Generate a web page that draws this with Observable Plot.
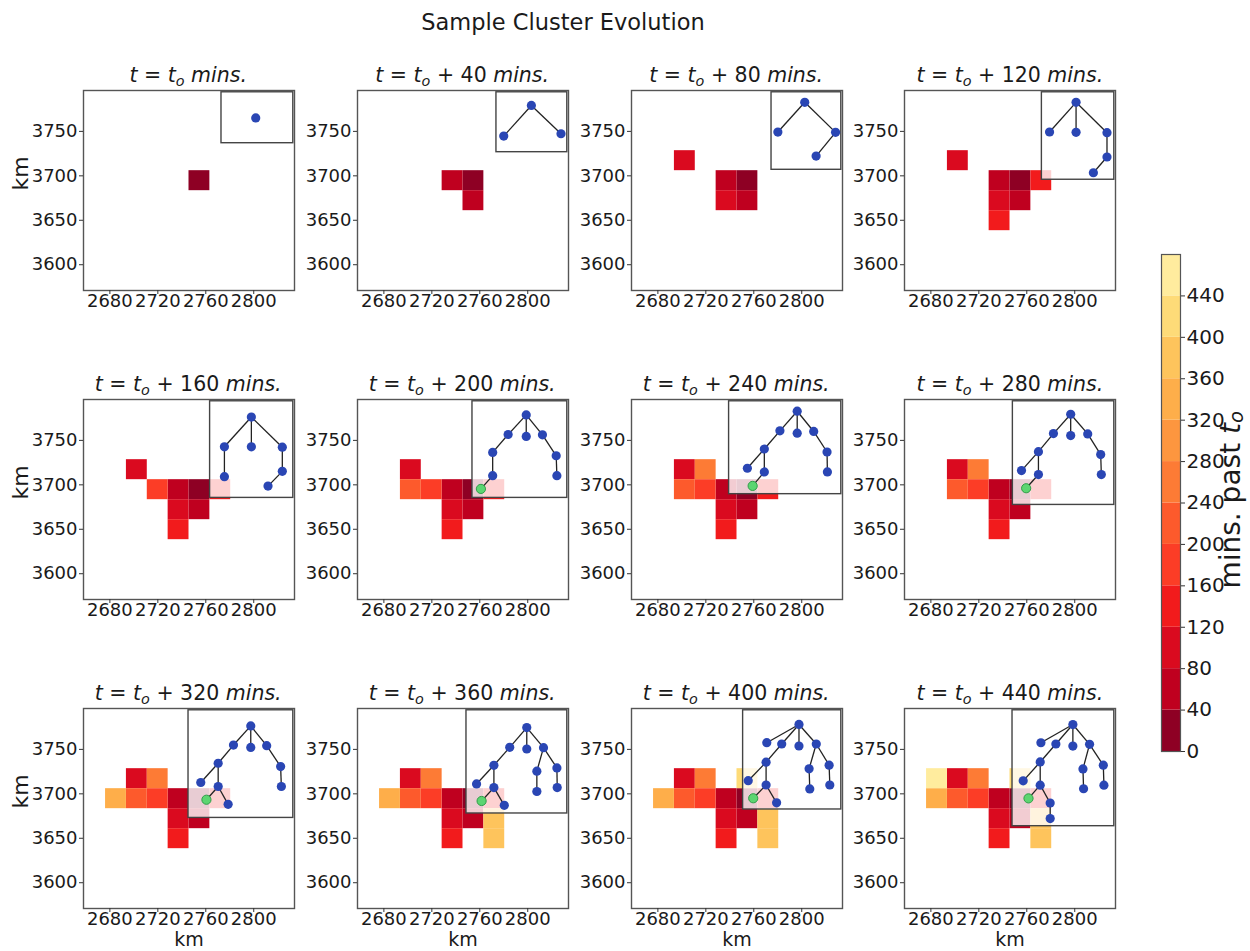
<!DOCTYPE html>
<html><head><meta charset="utf-8">
<script src="https://cdn.jsdelivr.net/npm/d3@7"></script>
<script src="https://cdn.jsdelivr.net/npm/@observablehq/plot@0.6"></script>
<style>
body{margin:0;background:#fff;font-family:"DejaVu Sans",sans-serif;color:#1a1a1a;}
#page{position:relative;width:1250px;height:951px;overflow:hidden;background:#fff;}
.abs{position:absolute;}
.ptitle{position:absolute;width:211px;text-align:center;font-size:20.5px;line-height:20px;white-space:nowrap;}
.ptitle sub{font-size:70%;vertical-align:-0.3em;line-height:0;}
#main{position:absolute;left:0;width:1126px;top:10px;text-align:center;font-size:22.5px;line-height:24px;}
#cblabel{position:absolute;font-size:28px;line-height:28px;white-space:nowrap;writing-mode:vertical-rl;transform:rotate(180deg);}
#cblabel sub{font-size:70%;vertical-align:-0.3em;line-height:0;}
</style>
</head><body><div id="page"><div id="main">Sample Cluster Evolution</div></div>
<script>
// ---------- data ----------
const frameMinutes = [0, 40, 80, 120, 160, 200, 240, 280, 320, 360, 400, 440];
// grid cells: centre (km) and minute at which each joined the cluster
const cellX = [2754.7, 2737.3, 2754.7, 2702.5, 2737.3, 2772.1, 2737.3, 2719.9, 2702.5, 2719.9, 2685.1, 2772.1, 2772.1, 2754.7, 2685.1];
const cellY = [3694.55, 3694.55, 3672.05, 3717.05, 3672.05, 3694.55, 3649.55, 3694.55, 3694.55, 3717.05, 3694.55, 3672.05, 3649.55, 3717.05, 3717.05];
const cellStart = [0, 40, 40, 80, 80, 120, 120, 160, 200, 240, 320, 360, 360, 400, 440];
// inset (tree) boxes: lower-left corner in km
const insetLeft = [2773.1, 2773.9, 2774.8, 2772.6, 2763.6, 2753.9, 2739.4, 2748.4, 2745.6, 2748.9, 2751.1, 2748.1];
const insetBottom = [3736.7, 3726.6, 3706.8, 3695.6, 3685.3, 3685.3, 3689.5, 3677.4, 3672.9, 3677.9, 3682.4, 3663.6];
// tree nodes (relative position inside inset, u from left, v from top) and parent index
const treeU = [
  [0.477],
  [0.493, 0.103, 0.911],
  [0.476, 0.091, 0.918, 0.639],
  [0.472, 0.106, 0.472, 0.899, 0.899, 0.711],
  [0.496, 0.172, 0.496, 0.868, 0.868, 0.696, 0.172],
  [0.567, 0.567, 0.376, 0.213, 0.213, 0.089, 0.738, 0.883, 0.890],
  [0.607, 0.607, 0.453, 0.314, 0.314, 0.210, 0.163, 0.754, 0.873, 0.876],
  [0.570, 0.570, 0.400, 0.252, 0.252, 0.131, 0.085, 0.738, 0.866, 0.872],
  [0.594, 0.594, 0.429, 0.283, 0.283, 0.171, 0.117, 0.746, 0.879, 0.886, 0.378],
  [0.598, 0.598, 0.429, 0.272, 0.272, 0.150, 0.100, 0.764, 0.897, 0.900, 0.375, 0.698, 0.698],
  [0.569, 0.569, 0.393, 0.234, 0.234, 0.103, 0.052, 0.745, 0.876, 0.883, 0.341, 0.672, 0.679, 0.241],
  [0.593, 0.593, 0.426, 0.272, 0.272, 0.157, 0.105, 0.757, 0.892, 0.898, 0.370, 0.692, 0.698, 0.279, 0.370]
];
const treeV = [
  [0.503],
  [0.220, 0.731, 0.692],
  [0.129, 0.513, 0.517, 0.823],
  [0.115, 0.454, 0.458, 0.462, 0.740, 0.920],
  [0.163, 0.471, 0.471, 0.475, 0.725, 0.878, 0.780],
  [0.141, 0.364, 0.344, 0.529, 0.770, 0.907, 0.347, 0.564, 0.770],
  [0.107, 0.343, 0.318, 0.514, 0.761, 0.911, 0.721, 0.325, 0.546, 0.761],
  [0.125, 0.331, 0.312, 0.486, 0.707, 0.839, 0.669, 0.315, 0.514, 0.707],
  [0.145, 0.345, 0.323, 0.492, 0.708, 0.831, 0.671, 0.329, 0.523, 0.708, 0.874],
  [0.168, 0.375, 0.359, 0.533, 0.749, 0.879, 0.714, 0.362, 0.559, 0.749, 0.921, 0.590, 0.787],
  [0.143, 0.360, 0.340, 0.523, 0.753, 0.887, 0.710, 0.340, 0.553, 0.753, 0.933, 0.590, 0.793, 0.327],
  [0.123, 0.309, 0.291, 0.446, 0.646, 0.760, 0.609, 0.294, 0.474, 0.646, 0.800, 0.506, 0.677, 0.280, 0.934]
];
const treeParent = [
  [-1],
  [-1, 0, 0],
  [-1, 0, 0, 2],
  [-1, 0, 0, 0, 3, 4],
  [-1, 0, 0, 0, 3, 4, 1],
  [-1, 0, 0, 2, 3, 4, 0, 6, 7],
  [-1, 0, 0, 2, 3, 4, 3, 0, 7, 8],
  [-1, 0, 0, 2, 3, 4, 3, 0, 7, 8],
  [-1, 0, 0, 2, 3, 4, 3, 0, 7, 8, 4],
  [-1, 0, 0, 2, 3, 4, 3, 0, 7, 8, 4, 7, 11],
  [-1, 0, 0, 2, 3, 4, 3, 0, 7, 8, 4, 7, 11, 0],
  [-1, 0, 0, 2, 3, 4, 3, 0, 7, 8, 4, 7, 11, 0, 10]
];
const greenNode = [-1, -1, -1, -1, -1, 5, 5, 5, 5, 5, 5, 5];
const colorTicks = [0, 40, 80, 120, 160, 200, 240, 280, 320, 360, 400, 440];
const xTicks = [2680, 2720, 2760, 2800];
const yTicks = [3600, 3650, 3700, 3750];

// ---------- style / layout ----------
const binColors = ["#8e0024", "#bf001f", "#da0a1f", "#f21b1c", "#fc3d26", "#fd5a2c",
                   "#fd7b35", "#fd963f", "#feae4a", "#fec45c", "#fedb78", "#ffec9e"];
const CW = 17.4, CH = 22.5;             // cell size in km
const XD = [2658, 2834], YD = [3571, 3796];
const INSET_RIGHT = 2833, INSET_TOP = 3794;
const colLeft = [82.7, 356.7, 630.7, 904.3];
const rowTop = [90, 399.3, 708.3];
const AW = 211, AH = 200, ML = 70, MR = 10, MT = 5, MB = 42;
const page = document.getElementById("page");
const txt = "#1a1a1a";

frameMinutes.forEach((m, k) => {
  const r = Math.floor(k / 4), c = k % 4;
  const axL = colLeft[c], axT = rowTop[r];
  const cells = cellX.map((x, i) => ({x, y: cellY[i], t: cellStart[i]})).filter(d => d.t <= m);
  const inset = {x1: insetLeft[k], x2: INSET_RIGHT, y1: insetBottom[k], y2: INSET_TOP};
  const sx = u => inset.x1 + u * (inset.x2 - inset.x1);
  const sy = v => inset.y2 - v * (inset.y2 - inset.y1);
  const nodes = treeU[k].map((u, i) => ({x: sx(u), y: sy(treeV[k][i]), p: treeParent[k][i], i}));
  const edges = nodes.filter(n => n.p >= 0).map(n => ({x1: nodes[n.p].x, y1: nodes[n.p].y, x2: n.x, y2: n.y}));
  const blue = nodes.filter(n => n.i !== greenNode[k]);
  const green = nodes.filter(n => n.i === greenNode[k]);
  const marks = [
    Plot.rect(cells, {x1: d => d.x - CW / 2, x2: d => d.x + CW / 2, y1: d => d.y - CH / 2, y2: d => d.y + CH / 2, fill: "t"}),
    Plot.rect([inset], {x1: "x1", x2: "x2", y1: "y1", y2: "y2", fill: "white", fillOpacity: 0.8, stroke: "#444", strokeWidth: 1.4}),
    Plot.link(edges, {x1: "x1", y1: "y1", x2: "x2", y2: "y2", stroke: "#222", strokeWidth: 1.3}),
    Plot.dot(blue, {x: "x", y: "y", r: 4.6, fill: "#2a46b4"}),
    Plot.dot(green, {x: "x", y: "y", r: 4.6, fill: "#5cd571", stroke: "#2f9e48", strokeWidth: 1}),
    Plot.frame({stroke: "#555", strokeWidth: 1.4}),
    Plot.axisX(xTicks, {tickSize: 4, tickPadding: 0, fontSize: 18, tickFormat: d => String(d), label: null, fill: txt, stroke: "#333"}),
    Plot.axisY(yTicks, {tickSize: 4, tickPadding: 2, fontSize: 18, tickFormat: d => String(d), label: null, fill: txt, stroke: "#333"})
  ];
  if (c === 0) marks.push(Plot.text(["km"], {frameAnchor: "left", dx: -63, rotate: -90, fontSize: 22, fill: txt}));
  if (r === 2) marks.push(Plot.text(["km"], {frameAnchor: "bottom", dy: 37, fontSize: 19, fill: txt}));
  const svg = Plot.plot({
    width: ML + AW + MR, height: MT + AH + MB,
    marginLeft: ML, marginRight: MR, marginTop: MT, marginBottom: MB,
    x: {domain: XD}, y: {domain: YD},
    color: {type: "threshold", domain: colorTicks.slice(1), range: binColors},
    style: {fontFamily: "DejaVu Sans", fontSize: "18px", background: "transparent", overflow: "visible", color: txt},
    marks
  });
  svg.classList.add("abs");
  svg.style.left = (axL - ML) + "px";
  svg.style.top = (axT - MT) + "px";
  page.appendChild(svg);
  const t = document.createElement("div");
  t.className = "ptitle";
  t.style.left = axL + "px";
  t.style.top = (axT - 25) + "px";
  t.innerHTML = m === 0
    ? `<i>t</i> = <i>t</i><sub><i>o</i></sub> <i>mins.</i>`
    : `<i>t</i> = <i>t</i><sub><i>o</i></sub> + ${m} <i>mins.</i>`;
  page.appendChild(t);
});

// ---------- colorbar ----------
const cb = Plot.plot({
  width: 19 + 45, height: 497 + 20,
  marginLeft: 0, marginRight: 45, marginTop: 10, marginBottom: 10,
  x: {domain: [0, 1], axis: null},
  y: {domain: [0, 480]},
  color: {type: "threshold", domain: colorTicks.slice(1), range: binColors},
  style: {fontFamily: "DejaVu Sans", fontSize: "20px", background: "transparent", overflow: "visible", color: txt},
  marks: [
    Plot.rect(colorTicks, {x1: 0, x2: 1, y1: d => d, y2: d => d + 40, fill: d => d}),
    Plot.frame({stroke: "#555", strokeWidth: 1.2}),
    Plot.axisY(colorTicks, {anchor: "right", tickSize: 4, tickPadding: 2, fontSize: 20, tickFormat: d => String(d), label: null, fill: txt, stroke: "#333"})
  ]
});
cb.classList.add("abs");
cb.style.left = "1161px";
cb.style.top = "244px";
page.appendChild(cb);
const lab = document.createElement("div");
lab.id = "cblabel";
lab.innerHTML = `mins. past <i>t</i><sub><i>o</i></sub>`;
page.appendChild(lab);
const w = lab.offsetWidth, h = lab.offsetHeight;
lab.style.left = (1231 - w / 2) + "px";
lab.style.top = (500 - h / 2) + "px";
</script>
</body></html>
